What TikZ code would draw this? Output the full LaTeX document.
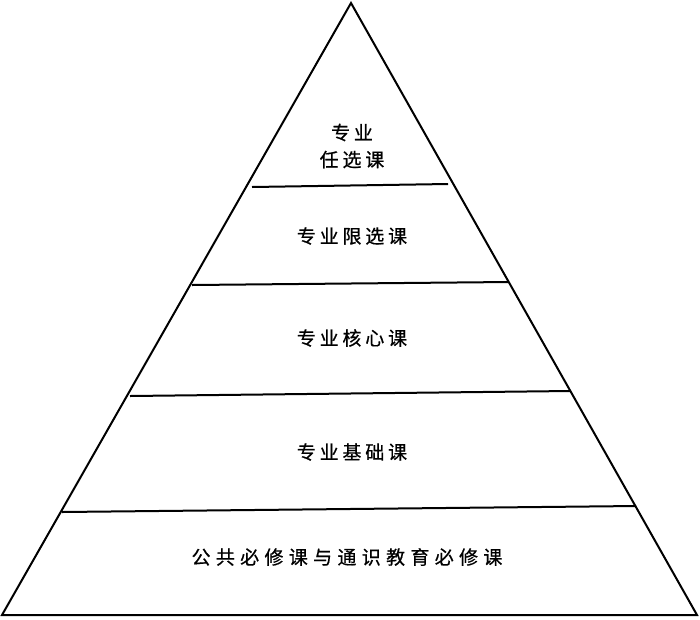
\documentclass[tikz,border=0pt]{standalone}
\usepackage{fontspec}
\newfontfamily\cjk{Noto Sans CJK SC}[LetterSpace=20,FakeBold=0.6]
\newfontfamily\cjkw{Noto Sans CJK SC}[LetterSpace=28,FakeBold=0.6]
\begin{document}
\begin{tikzpicture}[x=1pt,y=-1pt,
  edge/.style={line width=2pt, line join=miter},
  lvl/.style={line width=2pt},
  lab/.style={font=\cjk\fontsize{19}{27}\selectfont, inner sep=0pt, align=center}]
\useasboundingbox (0,0) rectangle (700,619);
\coordinate (apex) at (351,3);
\coordinate (bl) at (2,615);
\coordinate (br) at (697,615);
\draw[edge] (apex) -- (bl) -- (br) -- cycle;
\coordinate (a1) at (252,187); \coordinate (b1) at (448,184);
\coordinate (a2) at (192,285); \coordinate (b2) at (509,282);
\coordinate (a3) at (130,396); \coordinate (b3) at (570,391);
\coordinate (a4) at (62,512); \coordinate (b4) at (636,506);
\draw[lvl] (a1) -- (b1);
\draw[lvl] (a2) -- (b2);
\draw[lvl] (a3) -- (b3);
\draw[lvl] (a4) -- (b4);
\node[lab] (t1) at (352,146) {专业\\任选课};
\node[lab] (t2) at (352,236) {专业限选课};
\node[lab] (t3) at (352,338) {专业核心课};
\node[lab] (t4) at (352,452) {专业基础课};
\node[lab, font=\cjkw\fontsize{19}{27}\selectfont] (t5) at (347,557) {公共必修课与通识教育必修课};
\end{tikzpicture}
\end{document}
